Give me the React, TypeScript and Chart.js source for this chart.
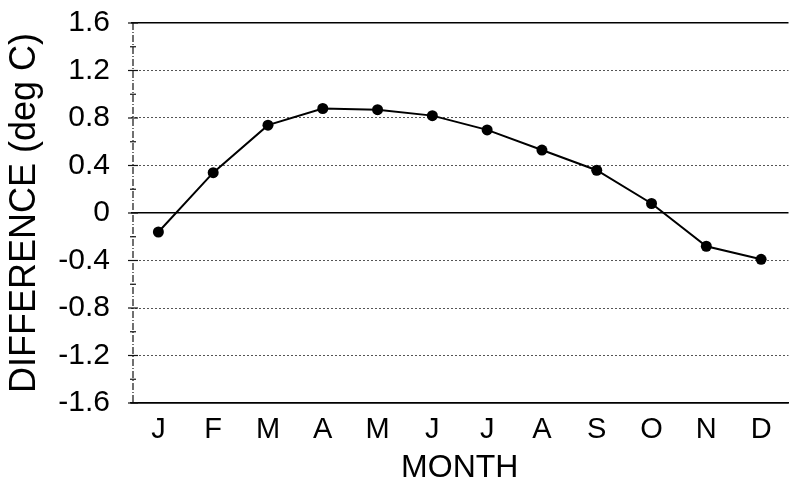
import { useEffect, useRef } from 'react';
import { Chart, registerables } from 'chart.js';

Chart.register(...registerables);

const months = ['J', 'F', 'M', 'A', 'M', 'J', 'J', 'A', 'S', 'O', 'N', 'D'];
const difference = [-0.16, 0.34, 0.74, 0.88, 0.87, 0.82, 0.7, 0.53, 0.36, 0.08, -0.28, -0.39];
const yTickValues = [-1.6, -1.2, -0.8, -0.4, 0, 0.4, 0.8, 1.2, 1.6];
const yMinorValues = [-1.4, -1.0, -0.6, -0.2, 0.2, 0.6, 1.0, 1.4];

const FONT = "'Liberation Sans', Arial, Helvetica, sans-serif";

const yAxisPlugin = {
  id: 'yAxisDashDot',
  afterDraw(chart: any) {
    const { ctx, chartArea, scales } = chart;
    const y = scales.y;
    const x0 = chartArea.left + 2;
    ctx.save();
    ctx.strokeStyle = '#111';
    ctx.lineWidth = 1.2;
    ctx.setLineDash([7, 2, 1, 2]);
    ctx.beginPath();
    ctx.moveTo(x0, chartArea.top);
    ctx.lineTo(x0, chartArea.bottom);
    ctx.stroke();
    ctx.setLineDash([]);
    ctx.lineWidth = 1.2;
    yTickValues.forEach((v) => {
      const py = y.getPixelForValue(v);
      ctx.beginPath();
      ctx.moveTo(x0 - 5, py);
      ctx.lineTo(x0 + 5, py);
      ctx.stroke();
    });
    yMinorValues.forEach((v) => {
      const py = y.getPixelForValue(v);
      ctx.beginPath();
      ctx.moveTo(x0 - 3, py);
      ctx.lineTo(x0 + 3, py);
      ctx.stroke();
    });
    ctx.restore();
  },
};

export default function App() {
  const canvasRef = useRef<HTMLCanvasElement | null>(null);

  useEffect(() => {
    document.body.style.margin = '0';
    const canvas = canvasRef.current;
    if (!canvas) return;
    const chart = new Chart(canvas, {
      type: 'line',
      data: {
        labels: months,
        datasets: [
          {
            data: difference,
            borderColor: '#000',
            backgroundColor: '#000',
            borderWidth: 2,
            pointRadius: 5.5,
            pointHoverRadius: 5.5,
            pointBackgroundColor: '#000',
            pointBorderColor: '#000',
            pointBorderWidth: 0,
            tension: 0,
          },
        ],
      },
      options: {
        responsive: false,
        animation: false,
        layout: { padding: { top: 23, left: 0, right: 0, bottom: 0 } },
        plugins: {
          legend: { display: false },
          tooltip: { enabled: false },
        },
        scales: {
          x: {
            type: 'category',
            offset: true,
            grid: { display: true, drawOnChartArea: false, drawTicks: false },
            border: { display: true, color: '#000', width: 1.5 },
            ticks: {
              color: '#000',
              padding: 10,
              font: { family: FONT, size: 29 },
              maxRotation: 0,
              autoSkip: false,
            },
            title: {
              display: true,
              text: 'MONTH',
              color: '#000',
              font: { family: FONT, size: 32 },
              padding: { top: 0, bottom: 0 },
            },
            afterFit(scale: any) {
              scale.height = 84;
              scale.paddingLeft = 0;
              scale.paddingRight = 0;
            },
          },
          y: {
            min: -1.6,
            max: 1.6,
            afterBuildTicks(scale: any) {
              scale.ticks = yTickValues.map((v) => ({ value: v }));
            },
            grid: {
              drawTicks: false,
              color: (ctx: any) => {
                const v = ctx.tick ? ctx.tick.value : null;
                if (v === 0 || v === 1.6 || v === -1.6) return '#000';
                return '#555';
              },
              lineWidth: (ctx: any) => {
                const v = ctx.tick ? ctx.tick.value : null;
                if (v === 0 || v === 1.6 || v === -1.6) return 1.5;
                return 1;
              },
            },
            border: {
              display: false,
              dash: (ctx: any) => {
                const v = ctx.tick ? ctx.tick.value : null;
                if (v === 0 || v === 1.6 || v === -1.6 || v === null) return [];
                return [2, 2];
              },
            },
            ticks: {
              color: '#000',
              padding: 21,
              font: { family: FONT, size: 30 },
              callback: (value: any) => {
                const v = Number(value);
                return Math.abs(v) < 1e-9 ? '0' : v.toFixed(1);
              },
            },
            title: {
              display: true,
              text: 'DIFFERENCE (deg C)',
              color: '#000',
              font: { family: FONT, size: 36 },
              padding: { top: 3, bottom: 0 },
            },
            afterFit(scale: any) {
              scale.width = 131;
              scale.paddingTop = 0;
              scale.paddingBottom = 0;
            },
          },
        },
      },
      plugins: [yAxisPlugin],
    });
    return () => chart.destroy();
  }, []);

  return (
    <div style={{ width: 794, height: 487 }}>
      <canvas ref={canvasRef} width={794} height={487} style={{ display: 'block' }} />
    </div>
  );
}
